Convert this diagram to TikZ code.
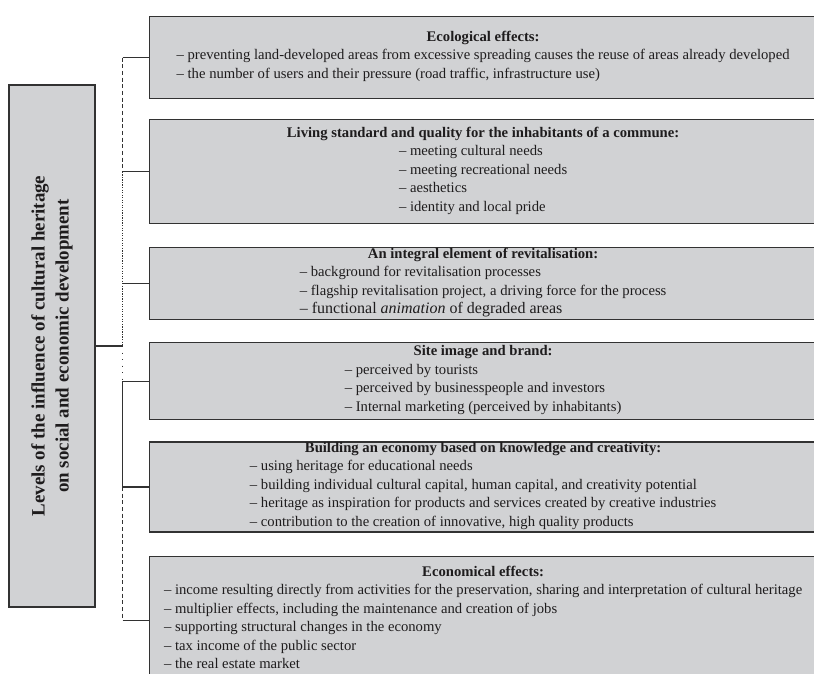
\documentclass[tikz,border=0pt]{standalone}
\usepackage{fontspec}
\setmainfont{Liberation Serif}
\usepackage{xcolor}
\usetikzlibrary{positioning}
\definecolor{boxgray}{RGB}{209,210,212}
\definecolor{edgegray}{RGB}{50,50,50}
\definecolor{inkgray}{RGB}{30,28,29}
\newcommand{\itemlist}[1]{\begin{tabular}[t]{@{}l@{}}#1\end{tabular}}
\tikzset{
  levelbox/.style={draw=edgegray, line width=0.9pt, fill=boxgray, text=inkgray,
                   align=center, inner xsep=4pt, inner ysep=0pt,
                   font=\fontsize{11}{13.9}\selectfont, minimum width=500.25pt},
  mainbox/.style={draw=edgegray, line width=0.9pt, fill=boxgray, text=inkgray,
                  align=center, inner sep=0pt, rotate=90,
                  minimum width=391.5pt, minimum height=64.5pt,
                  font=\fontsize{14.2}{18}\selectfont\bfseries},
  link/.style={edgegray, line width=0.9pt}
}

\begin{document}
\begin{tikzpicture}[
  x=0.75pt, y=-0.75pt,
  mainlink/.style={edgegray, line width=1.6pt}
]
\useasboundingbox (0,0) rectangle (814,674);
\fill[white] (0,0) rectangle (814,674);
\clip (0,0) rectangle (814,674);

% Nodes (left box and stacked levels)
\node[mainbox] (levels) at (52,346) {Levels of the influence of cultural heritage\\on social and economic development};

\node[levelbox, minimum height=61.5pt, anchor=north west] (eco) at (149,16)
  {\textbf{Ecological effects:}\\
   \itemlist{– preventing land-developed areas from excessive spreading causes the reuse of areas already developed\\
             – the number of users and their pressure (road traffic, infrastructure use)}};
\node[levelbox, minimum height=78pt, below=15pt of eco.south west, anchor=north west] (living)
  {\textbf{Living standard and quality for the inhabitants of a commune:}\\
   \itemlist{– meeting cultural needs\\
             – meeting recreational needs\\
             – aesthetics\\
             – identity and local pride}};
\node[levelbox, minimum height=54pt, below=17pt of living.south west, anchor=north west] (revit)
  {\textbf{An integral element of revitalisation:}\\
   \itemlist{– background for revitalisation processes\\
             – flagship revitalisation project, a driving force for the process\\
             {\fontsize{12}{13.9}\selectfont – functional \textit{animation} of degraded areas}}};
\node[levelbox, minimum height=57.75pt, below=16.5pt of revit.south west, anchor=north west] (site)
  {\textbf{Site image and brand:}\\
   \itemlist{– perceived by tourists\\
             – perceived by businesspeople and investors\\
             – Internal marketing (perceived by inhabitants)}};
\node[levelbox, minimum height=66pt, below=15.75pt of site.south west, anchor=north west] (know)
  {\textbf{Building an economy based on knowledge and creativity:}\\
   \itemlist{– using heritage for educational needs\\
             – building individual cultural capital, human capital, and creativity potential\\
             – heritage as inspiration for products and services created by creative industries\\
             – contribution to the creation of innovative, high quality products}};
\node[levelbox, minimum height=96pt, below=17.25pt of know.south west, anchor=north west] (econ)
  {\textbf{Economical effects:}\\
   \itemlist{– income resulting directly from activities for the preservation, sharing and interpretation of cultural heritage\\
             – multiplier effects, including the maintenance and creation of jobs\\
             – supporting structural changes in the economy\\
             – tax income of the public sector\\
             – the real estate market}};

% Main link and bus
\draw[mainlink] (levels.south) -- ++(27,0) coordinate (hub);
\draw[link, densely dashed] (hub |- eco.west) -- (hub |- living.west);
\draw[link, densely dotted] (hub |- living.west) -- (hub);
\draw[link, loosely dotted] (hub) -- (hub |- site.west);
\draw[link] (hub |- site.west) -- (hub |- know.west);
\draw[link, densely dashed] (hub |- know.west) -- (hub |- econ.west);

% Branches to the levels
\foreach \lvl in {eco, living, revit, site, know, econ}
  \draw[link] (hub |- \lvl.west) -- (\lvl.west);

\end{tikzpicture}
\end{document}
